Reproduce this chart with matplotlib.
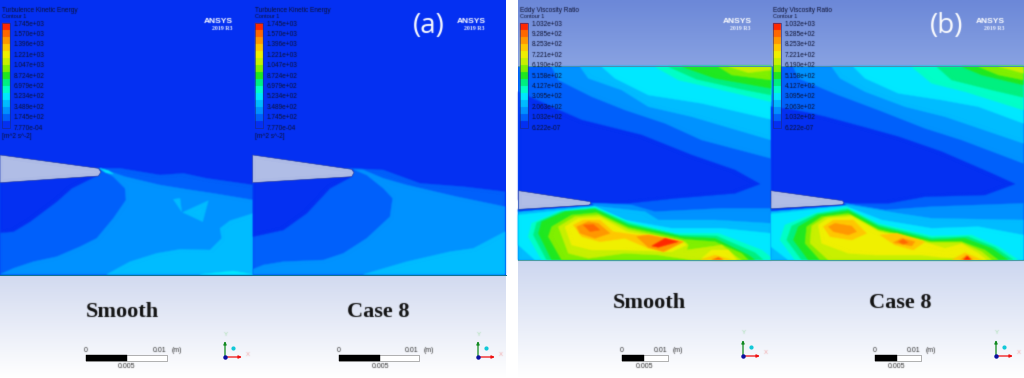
import numpy as np
import matplotlib
matplotlib.use("Agg")
import matplotlib.pyplot as plt
from matplotlib.colors import ListedColormap, LinearSegmentedColormap
from matplotlib.patches import Polygon, Rectangle

# ------- data -------
TKE_LABELS = ["1.745e+03", "1.570e+03", "1.396e+03", "1.221e+03", "1.047e+03", "8.724e+02",
              "6.979e+02", "5.234e+02", "3.489e+02", "1.745e+02", "7.770e-04"]
EVR_LABELS = ["1.032e+03", "9.285e+02", "8.253e+02", "7.221e+02", "6.190e+02", "5.158e+02",
              "4.127e+02", "3.095e+02", "2.063e+02", "1.032e+02", "6.222e-07"]
CASES = ["Smooth", "Case 8", "Smooth", "Case 8"]
BAND_COLORS = ["#0430f2", "#0060fb", "#0092ff", "#00bcff", "#00e8ff", "#00ffc8", "#00f080", "#20e820",
               "#80f000", "#c8f000", "#f0f000", "#ffc800", "#ff9800", "#ff6800", "#ff2800"]
C0, C1, C2, C3, C4, C5, C6, C7, C8, C9, C10, C11, C12, C13, C14 = BAND_COLORS
FOIL = "#b0bde6"

# Contour outlines (crop units: 3 per image pixel)
A_L_FIELD = [
    (C1, [(300,55),(360,55),(480,75),(550,70),(620,85),(760,105),(780,108),(780,373),(0,373),(0,90)]),
    (C0, [(0,248),(40,245),(90,215),(170,155),(215,115),(295,75),(303,60),(0,90)]),
    (C2, [(300,55),(375,80),(480,105),(560,118),(640,130),(760,150),(780,150),(780,373),(0,373),(40,355),(100,335),
          (170,320),(240,290),(290,265),(340,205),(378,150),(375,115),(340,80)]),
    (C3, [(320,373),(390,335),(470,310),(540,298),(630,300),(665,265),(660,235),(690,212),(760,190),(780,190),(780,373)]),
    (C3, [(520,148),(540,145),(545,185)]),
    (C3, [(548,187),(625,152),(608,215)]),
    (C4, [(600,373),(700,363),(760,373)]),
    (C4, [(298,55),(325,62),(340,72),(318,68)]),
]
A_L_FOIL = [(0,15),(295,55),(303,66),(295,78),(0,98)]
A_R_FIELD = [
    (C1, [(305,55),(400,60),(510,100),(640,110),(765,125),(765,373),(8,373),(8,90)]),
    (C0, [(8,260),(100,240),(170,190),(240,115),(305,80),(310,60),(8,90)]),
    (C2, [(310,58),(340,60),(400,85),(470,105),(620,140),(765,170),(765,373),(8,373),(8,358),(40,345),(100,335),
          (220,330),(280,310),(350,265),(420,200),(428,145),(400,115),(350,75)]),
    (C3, [(340,373),(470,335),(600,305),(670,295),(765,245),(765,373)]),
]
A_R_FOIL = [(8,15),(305,58),(312,68),(305,80),(8,98)]

B_L_UPPER = [
    (C0, [(10,275),(120,325),(200,360),(380,405),(530,465),(660,510),(735,552),(660,580),(480,595),(340,610),(230,610),(10,600)]),
    (C2, [(110,200),(130,240),(230,290),(330,330),(450,370),(560,420),(768,475),(768,200)]),
    (C3, [(195,200),(220,235),(320,270),(400,320),(530,350),(768,420),(768,200)]),
    (C4, [(260,200),(300,235),(400,285),(560,310),(768,358),(768,200)]),
    (C5, [(420,200),(490,240),(600,265),(768,305),(768,200)]),
    (C6, [(460,200),(545,238),(680,268),(768,285),(768,200)]),
    (C7, [(500,200),(600,235),(768,265),(768,200)]),
    (C8, [(610,200),(650,225),(768,240),(768,200)]),
    (C9, [(640,200),(700,218),(768,210),(768,200)]),
]
B_L_LOWER = [
    (C2, [(10,118),(240,100),(350,105),(420,125),(520,120),(620,115),(768,115),(768,270),(10,270)]),
    (C3, [(10,120),(240,108),(390,125),(430,150),(600,150),(768,160),(768,270),(10,270)]),
    (C4, [(10,135),(240,110),(330,150),(470,175),(620,175),(768,190),(768,270),(60,270),(10,225)]),
    (C5, [(50,160),(130,125),(240,112),(340,155),(480,190),(610,190),(740,240),(768,262),(768,270),(80,270),(40,200)]),
    (C6, [(65,158),(140,125),(240,115),(340,160),(490,195),(605,198),(720,248),(745,270),(95,270),(55,195)]),
    (C7, [(80,155),(150,125),(240,118),(340,165),(500,200),(600,205),(700,255),(720,270),(110,270),(70,190)]),
    (C8, [(110,170),(170,135),(245,128),(340,172),(510,208),(600,215),(680,250),(700,270),(140,270),(100,200)]),
    (C9, [(130,170),(180,140),(250,135),(340,178),(510,215),(520,225),(515,240),(620,225),(670,265),(680,270),(530,270),
          (430,255),(330,250),(220,265),(160,250)]),
    (C10,[(150,170),(190,145),(255,142),(335,185),(500,215),(515,225),(470,245),(330,240),(230,240),(170,225)]),
    (C10,[(560,265),(590,240),(640,240),(665,270)]),
    (C11,[(175,165),(205,150),(255,150),(295,185),(365,195),(400,195),(505,215),(450,245),(400,235),(330,205),(255,215),(200,200)]),
    (C11,[(555,270),(600,255),(650,270)]),
    (C12,[(185,170),(220,155),(250,160),(285,190),(240,205),(195,190)]),
    (C12,[(365,200),(400,195),(505,215),(445,245),(400,232)]),
    (C13,[(205,165),(235,163),(255,180),(225,185)]),
    (C14,[(410,228),(450,205),(490,215),(430,232)]),
    (C13,[(590,270),(610,262),(625,270)]),
    (C0, [(10,118),(228,100),(235,104),(10,124)]),
]
B_L_FOIL = [(10,62),(225,95),(228,100),(222,105),(10,118)]

B_R_UPPER = [
    (C0, [(18,320),(90,330),(180,350),(310,385),(400,410),(530,455),(680,520),(750,552),(660,585),(480,590),(370,610),(240,610),(18,610)]),
    (C2, [(85,200),(100,235),(220,285),(340,330),(480,385),(590,420),(775,490),(775,200)]),
    (C3, [(200,200),(225,235),(300,275),(420,320),(540,350),(775,430),(775,200)]),
    (C4, [(265,200),(300,235),(400,280),(530,300),(640,320),(775,370),(775,200)]),
    (C5, [(440,200),(500,250),(600,275),(775,330),(775,200)]),
    (C6, [(515,200),(560,240),(680,270),(775,292),(775,200)]),
    (C7, [(590,200),(650,225),(775,255),(775,200)]),
    (C8, [(640,200),(700,225),(775,240),(775,200)]),
    (C9, [(700,200),(740,210),(775,220),(775,200)]),
]
B_R_LOWER = [
    (C2, [(18,116),(240,100),(360,120),(500,110),(775,100),(775,270),(18,270)]),
    (C3, [(18,125),(250,105),(400,130),(500,145),(775,150),(775,270),(18,270)]),
    (C4, [(18,132),(240,108),(350,150),(500,175),(640,170),(775,195),(775,270),(70,270),(18,230)]),
    (C5, [(60,165),(150,130),(245,112),(340,160),(500,198),(620,195),(700,230),(760,270),(90,270),(45,210)]),
    (C6, [(80,168),(155,132),(248,117),(340,165),(500,204),(610,200),(690,232),(745,270),(110,270),(65,210)]),
    (C7, [(100,170),(160,135),(250,122),(340,170),(500,210),(600,205),(680,235),(730,270),(130,270),(85,210)]),
    (C8, [(125,170),(170,140),(250,130),(340,178),(500,215),(590,215),(660,240),(700,270),(165,270),(120,220)]),
    (C9, [(140,168),(180,142),(255,135),(340,182),(495,218),(590,218),(650,245),(680,270),(190,270),(135,220)]),
    (C10,[(160,165),(190,145),(260,140),(340,185),(490,220),(540,235),(590,222),(640,250),(665,270),(530,262),
          (470,255),(330,255),(250,250),(170,220)]),
    (C11,[(175,170),(205,150),(265,150),(305,190),(260,210),(195,200)]),
    (C11,[(345,195),(395,190),(480,215),(445,240),(390,225)]),
    (C11,[(560,270),(600,248),(650,270)]),
    (C12,[(190,170),(210,160),(260,168),(275,185),(250,195),(205,185)]),
    (C12,[(385,218),(410,205),(450,215),(440,228)]),
    (C12,[(585,270),(605,255),(625,270)]),
    (C13,[(400,215),(415,208),(430,218),(415,222)]),
    (C14,[(595,270),(607,258),(618,270)]),
    (C0, [(18,116),(234,98),(242,104),(18,122)]),
]
B_R_FOIL = [(18,62),(232,92),(237,98),(232,104),(18,116)]

# ------- layout -------
plt.rcParams["font.family"] = ["Liberation Sans", "DejaVu Sans"]
fig = plt.figure(figsize=(10.24, 3.78), dpi=100, facecolor="white")
ax = fig.add_axes([0, 0, 1, 1])
ax.set_xlim(0, 1024)
ax.set_ylim(378, 0)
ax.axis("off")


def soften(image, dpi, sigma=0.8):
    """The reference is a soft, upscaled bitmap: blur each artist slightly."""
    pad = 3
    src = np.pad(image, ((pad, pad), (pad, pad), (0, 0)), mode="constant")
    rgb = src[..., :3] * src[..., 3:4]
    prem = np.dstack([rgb, src[..., 3]])
    k = np.exp(-0.5 * (np.arange(-pad, pad + 1) / sigma) ** 2)
    k /= k.sum()
    for axis in (0, 1):
        prem = np.apply_along_axis(lambda m: np.convolve(m, k, mode="same"), axis, prem)
    alpha = np.clip(prem[..., 3:4], 1e-6, 1)
    out = np.dstack([np.clip(prem[..., :3] / alpha, 0, 1), prem[..., 3]])
    return out, -pad, -pad


def txt(x, y, s, **kw):
    t = ax.text(x, y, s, **kw)
    t.set_agg_filter(lambda im, dpi: soften(im, dpi, 0.55))
    return t


def gradient(x0, x1, y0, y1, c0, c1, z=1):
    cm = LinearSegmentedColormap.from_list("g", [c0, c1])
    ax.imshow(np.linspace(0, 1, 64)[:, None], extent=(x0, x1, y1, y0), cmap=cm, aspect="auto",
              zorder=z, interpolation="bilinear")


def fill(layers, ox, oy, clip, z=2):
    for color, pts in layers:
        p = Polygon([(ox + a / 3, oy + b / 3) for a, b in pts], closed=True, fc=color, ec=color, lw=0.25, zorder=z)
        ax.add_patch(p)
        p.set_clip_path(clip)
        p.set_agg_filter(soften)


def foil(pts, ox, oy, z=4):
    xy = [(ox + a / 3, oy + b / 3) for a, b in pts]
    p = Polygon(xy, closed=True, fc=FOIL, ec="#2a3c98", lw=0.4, zorder=z)
    ax.add_patch(p)
    p.set_agg_filter(lambda im, dpi: soften(im, dpi, 0.5))


def legend(x, title, labels, unit=None, top=23.0, bottom=128.0):
    ink = "#0c1030"
    txt(x, 11, title, fontsize=4.7, color=ink, va="center", ha="left", zorder=6)
    txt(x, 16.5, "Contour 1", fontsize=4.0, color=ink, va="center", ha="left", zorder=6)
    cm = ListedColormap(BAND_COLORS)
    im = ax.imshow(np.arange(len(BAND_COLORS))[:, None], extent=(x, x + 7.5, bottom, top), cmap=cm, aspect="auto",
                   zorder=5, interpolation="none", origin="lower")
    im.set_agg_filter(lambda i, dpi: soften(i, dpi, 0.5))
    ax.add_patch(Rectangle((x, top), 7.5, bottom - top, fc="none", ec="#1c2a80", lw=0.4, zorder=6))
    for lab, yy in zip(labels, np.linspace(top + 1, bottom, len(labels))):
        txt(x + 12, yy, lab, fontsize=4.7, color=ink, va="center", ha="left", zorder=6)
    if unit:
        txt(x, 136, unit, fontsize=4.7, color=ink, va="center", ha="left", zorder=6)


def logo(x):
    txt(x, 21.5, "ANSYS", fontsize=6, fontweight="bold", color="white", ha="left", va="center", zorder=6)
    txt(x + 28, 28.5, "2019 R3", fontsize=4.2, family="Liberation Serif", fontweight="bold",
        color="#f0f4ff", ha="right", va="center", zorder=6)


def scale_bar(x0, xm, x1, yc):
    ax.add_patch(Rectangle((x0, yc - 3), x1 - x0, 6, fc="white", ec="#777777", lw=0.4, zorder=6))
    ax.add_patch(Rectangle((x0, yc - 3), xm - x0, 6, fc="black", ec="black", lw=0.3, zorder=7))
    txt(x0, yc - 8, "0", fontsize=5, color="#303030", ha="center", va="center", zorder=6)
    txt(x1 - 7.5, yc - 8, "0.01", fontsize=5, color="#303030", ha="center", va="center", zorder=6)
    txt(x1 + 10, yc - 8, "(m)", fontsize=5, color="#303030", ha="center", va="center", zorder=6)
    txt(xm, yc + 8, "0.005", fontsize=5, color="#303030", ha="center", va="center", zorder=6)


def triad(x, y):
    ax.annotate("", xy=(x + 17, y), xytext=(x, y), zorder=7,
                arrowprops=dict(arrowstyle="-|>,head_width=0.08,head_length=0.18", color="#f01010", lw=0.9, shrinkA=0, shrinkB=0))
    ax.annotate("", xy=(x, y - 16), xytext=(x, y), zorder=7,
                arrowprops=dict(arrowstyle="-|>,head_width=0.08,head_length=0.18", color="#108a20", lw=0.9, shrinkA=0, shrinkB=0))
    ax.plot([x], [y], "o", ms=2.2, color="#0a10a0", zorder=8)
    ax.plot([x + 8], [y - 9], "o", ms=2.0, color="#10c8d8", zorder=8)
    txt(x + 1, y - 23, "Y", fontsize=4.3, color="#a0dca8", ha="center", va="center", zorder=6)
    txt(x + 23, y - 3, "X", fontsize=4.3, color="#f0a0a0", ha="center", va="center", zorder=6)


# panel (a)
gradient(0, 506, 275, 378, "#d2daf0", "#ffffff")
ax.add_patch(Rectangle((0, 0), 506, 275, fc=C0, ec="none", zorder=1))
clip_al = Rectangle((0, 0), 253, 275, transform=ax.transData)
clip_ar = Rectangle((253, 0), 253, 275, transform=ax.transData)
fill(A_L_FIELD, 0, 150, clip_al)
fill(A_R_FIELD, 250, 150, clip_ar)
foil(A_L_FOIL, 0, 150)
foil(A_R_FOIL, 250, 150)
ax.plot([0, 506], [275, 275], color="#10708c", lw=0.7, zorder=5)

# panel (b)
gradient(518, 1024, 0, 66, "#6c88d8", "#88a2e2")
gradient(518, 1024, 260, 378, "#cdd7f0", "#ffffff")
ax.add_patch(Rectangle((518, 66), 506, 194, fc=C1, ec="none", zorder=1))
clip_bl = Rectangle((518, 66), 253, 194, transform=ax.transData)
clip_br = Rectangle((771, 66), 253, 194, transform=ax.transData)
fill(B_L_UPPER, 515, 0, clip_bl)
fill(B_L_LOWER, 515, 170, clip_bl)
fill(B_R_UPPER, 765, 0, clip_br)
fill(B_R_LOWER, 765, 170, clip_br)
foil(B_L_FOIL, 515, 170)
foil(B_R_FOIL, 765, 170)
ax.plot([518, 1024], [66, 66], color="#4a90b0", lw=0.7, zorder=5)
ax.plot([518, 1024], [260, 260], color="#4a9aa0", lw=0.7, zorder=5)

legend(2, "Turbulence Kinetic Energy", TKE_LABELS, "[m^2 s^-2]")
legend(255, "Turbulence Kinetic Energy", TKE_LABELS, "[m^2 s^-2]")
legend(520, "Eddy Viscosity Ratio", EVR_LABELS)
legend(773, "Eddy Viscosity Ratio", EVR_LABELS)
for lx in (204, 457, 723, 976):
    logo(lx)

txt(429, 26, "(a)", fontsize=20, family="Open Sans", color="white", ha="center", va="center", zorder=6)
txt(947, 26, "(b)", fontsize=20, family="Open Sans", color="white", ha="center", va="center", zorder=6)

for name, cx, cy in zip(CASES, (122, 378, 649, 900), (312, 312, 303, 303)):
    txt(cx, cy, name, fontsize=16, family="Liberation Serif", fontweight="bold", color="#111111",
        ha="center", va="center", zorder=6)

scale_bar(86, 127, 167, 358)
scale_bar(339, 380, 419, 358)
scale_bar(622, 644, 668, 358)
scale_bar(875, 897, 921, 358)
for tx, ty in ((225, 357), (478, 357), (743, 356), (996, 356)):
    triad(tx, ty)

ax.set_xlim(0, 1024)
ax.set_ylim(378, 0)
fig.savefig("out.png", dpi=100, facecolor="white")
